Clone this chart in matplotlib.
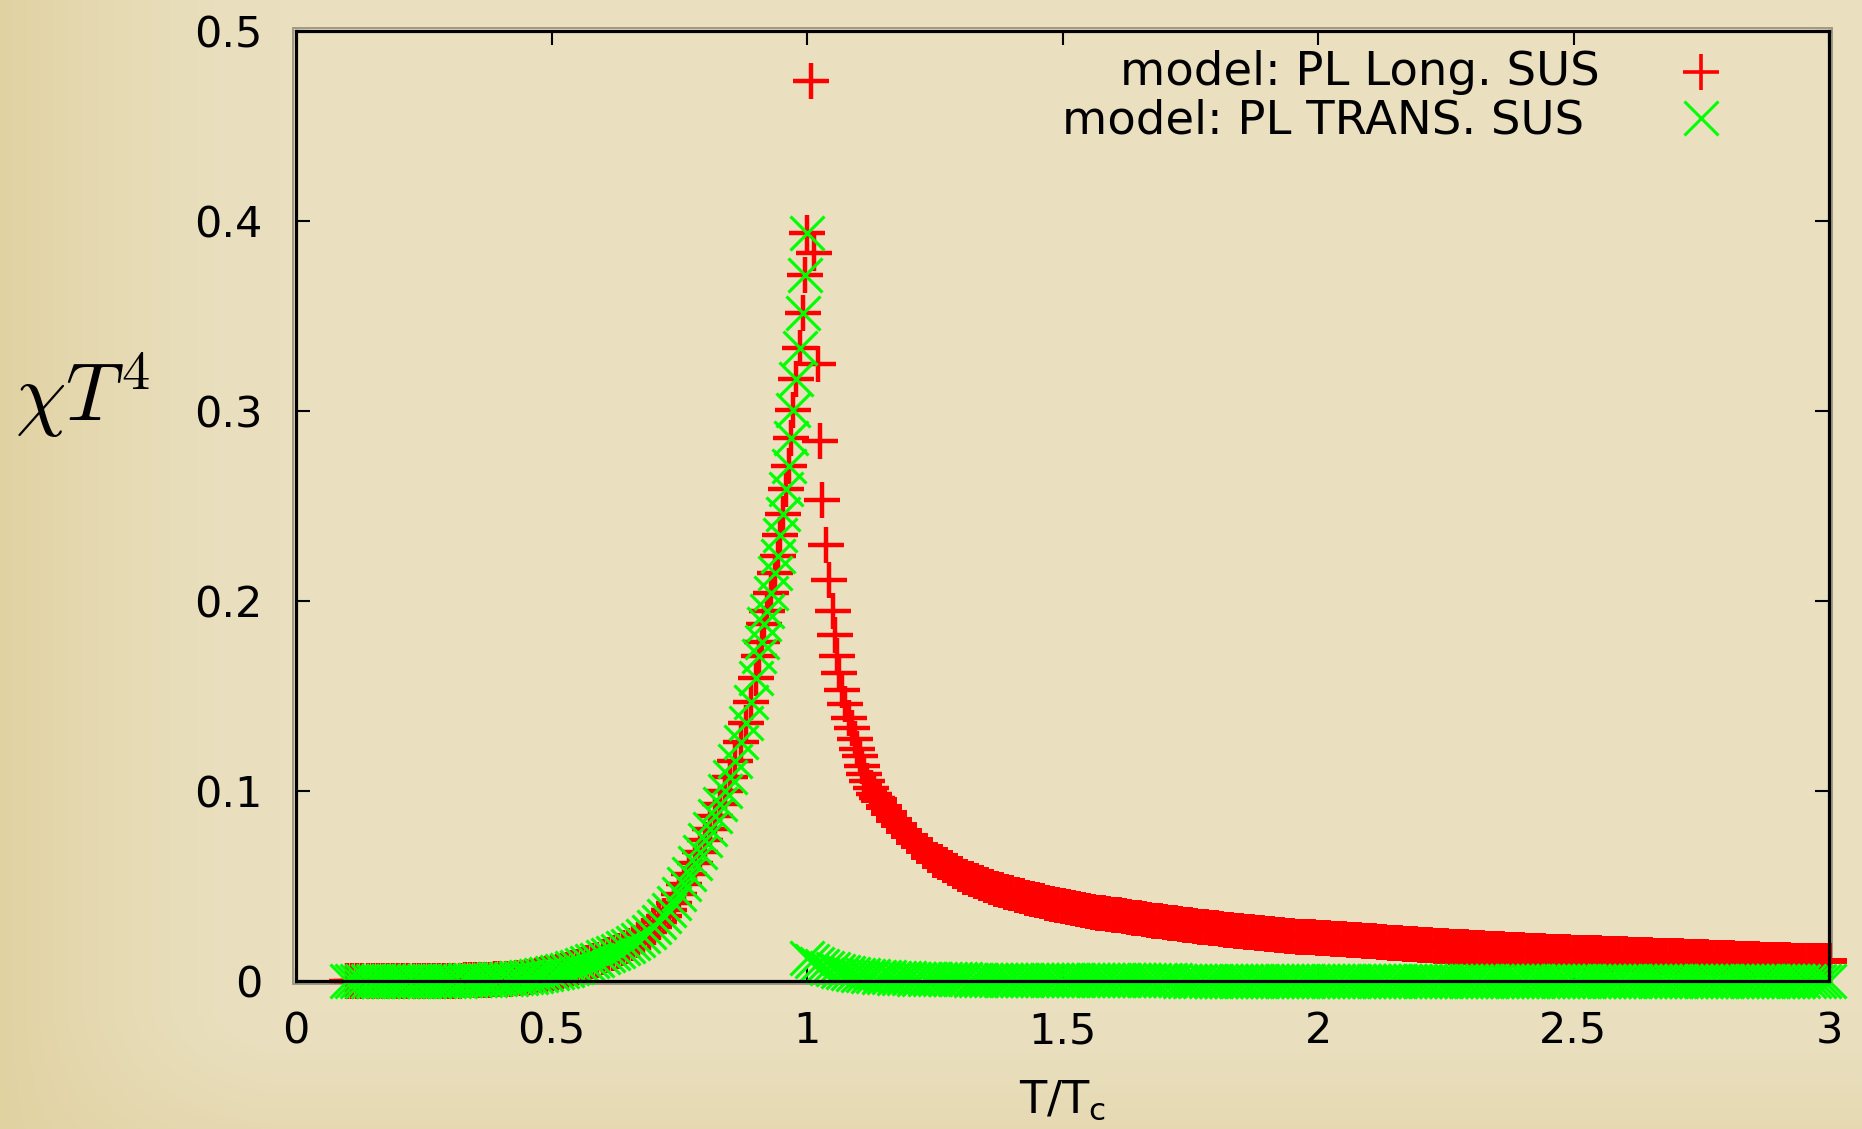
import numpy as np
import matplotlib
matplotlib.use("Agg")
import matplotlib.pyplot as plt
from matplotlib.lines import Line2D
from matplotlib.patches import Rectangle

# ------------------------------------------------------------------ data
# Below T_c both susceptibilities coincide (green drawn over red)
below_T = [
    0.10, 0.11, 0.12, 0.13, 0.14, 0.15, 0.16, 0.17, 0.18, 0.19,
    0.20, 0.21, 0.22, 0.23, 0.24, 0.25, 0.26, 0.27, 0.28, 0.29,
    0.30, 0.31, 0.32, 0.33, 0.34, 0.35, 0.36, 0.37, 0.38, 0.39,
    0.40, 0.41, 0.42, 0.43, 0.44, 0.45, 0.46, 0.47, 0.48, 0.49,
    0.50, 0.51, 0.52, 0.53, 0.54, 0.55, 0.56, 0.57, 0.58, 0.59,
    0.60, 0.61, 0.62, 0.63, 0.64, 0.65, 0.66, 0.67, 0.68, 0.69,
    0.70, 0.71, 0.72, 0.73, 0.74, 0.75, 0.76, 0.77, 0.78, 0.79,
    0.80, 0.81, 0.82, 0.83, 0.84, 0.85, 0.86, 0.87, 0.88, 0.89,
    0.90, 0.907, 0.912, 0.916, 0.922, 0.929, 0.937, 0.943, 0.948, 0.954,
    0.958, 0.964, 0.968, 0.973, 0.979, 0.986, 0.992, 0.996, 1.000,
]
below_chi = [
    0.0000, 0.0000, 0.0000, 0.0000, 0.0000, 0.0000, 0.0000, 0.0000, 0.0000, 0.0000,
    0.0000, 0.0001, 0.0001, 0.0001, 0.0001, 0.0001, 0.0001, 0.0001, 0.0001, 0.0002,
    0.0002, 0.0002, 0.0002, 0.0003, 0.0003, 0.0004, 0.0005, 0.0006, 0.0007, 0.0008,
    0.0009, 0.0010, 0.0012, 0.0014, 0.0016, 0.0019, 0.0022, 0.0026, 0.0030, 0.0035,
    0.0041, 0.0047, 0.0053, 0.0060, 0.0068, 0.0076, 0.0085, 0.0094, 0.0103, 0.0113,
    0.0124, 0.0135, 0.0146, 0.0159, 0.0172, 0.0186, 0.0201, 0.0218, 0.0237, 0.0258,
    0.0285, 0.0312, 0.0341, 0.0374, 0.0412, 0.0458, 0.0510, 0.0565, 0.0620, 0.0678,
    0.0740, 0.0802, 0.0866, 0.0930, 0.0998, 0.1072, 0.1160, 0.1258, 0.1360, 0.1470,
    0.1595, 0.1711, 0.1785, 0.1877, 0.1948, 0.2043, 0.2148, 0.2239, 0.2348, 0.2459,
    0.2587, 0.2713, 0.2859, 0.3007, 0.3170, 0.3333, 0.3516, 0.3718, 0.3937,
]

# Longitudinal susceptibility just above T_c (individually resolved markers)
long_peak_T = [
    1.008, 1.014, 1.021, 1.026, 1.030, 1.037, 1.043, 1.050, 1.054, 1.058,
    1.062, 1.069, 1.075, 1.083, 1.089, 1.093, 1.097, 1.104, 1.108, 1.112,
    1.118, 1.125, 1.131, 1.137,
]
long_peak_chi = [
    0.4737, 0.3829, 0.3246, 0.2841, 0.2534, 0.2297, 0.2113, 0.1948, 0.1821, 0.1711,
    0.1623, 0.1530, 0.1456, 0.1384, 0.1329, 0.1273, 0.1221, 0.1184, 0.1129, 0.1092,
    0.1055, 0.1018, 0.0985, 0.0962,
]

# Temperature grid of the high-temperature tail
tail_T = [
    1.00, 1.01, 1.02, 1.03, 1.04, 1.05, 1.06, 1.07, 1.08, 1.09,
    1.10, 1.11, 1.12, 1.13, 1.14, 1.15, 1.16, 1.17, 1.18, 1.19,
    1.20, 1.21, 1.22, 1.23, 1.24, 1.25, 1.26, 1.27, 1.28, 1.29,
    1.30, 1.31, 1.32, 1.33, 1.34, 1.35, 1.36, 1.37, 1.38, 1.39,
    1.40, 1.41, 1.42, 1.43, 1.44, 1.45, 1.46, 1.47, 1.48, 1.49,
    1.50, 1.51, 1.52, 1.53, 1.54, 1.55, 1.56, 1.57, 1.58, 1.59,
    1.60, 1.61, 1.62, 1.63, 1.64, 1.65, 1.66, 1.67, 1.68, 1.69,
    1.70, 1.71, 1.72, 1.73, 1.74, 1.75, 1.76, 1.77, 1.78, 1.79,
    1.80, 1.81, 1.82, 1.83, 1.84, 1.85, 1.86, 1.87, 1.88, 1.89,
    1.90, 1.91, 1.92, 1.93, 1.94, 1.95, 1.96, 1.97, 1.98, 1.99,
    2.00, 2.01, 2.02, 2.03, 2.04, 2.05, 2.06, 2.07, 2.08, 2.09,
    2.10, 2.11, 2.12, 2.13, 2.14, 2.15, 2.16, 2.17, 2.18, 2.19,
    2.20, 2.21, 2.22, 2.23, 2.24, 2.25, 2.26, 2.27, 2.28, 2.29,
    2.30, 2.31, 2.32, 2.33, 2.34, 2.35, 2.36, 2.37, 2.38, 2.39,
    2.40, 2.41, 2.42, 2.43, 2.44, 2.45, 2.46, 2.47, 2.48, 2.49,
    2.50, 2.51, 2.52, 2.53, 2.54, 2.55, 2.56, 2.57, 2.58, 2.59,
    2.60, 2.61, 2.62, 2.63, 2.64, 2.65, 2.66, 2.67, 2.68, 2.69,
    2.70, 2.71, 2.72, 2.73, 2.74, 2.75, 2.76, 2.77, 2.78, 2.79,
    2.80, 2.81, 2.82, 2.83, 2.84, 2.85, 2.86, 2.87, 2.88, 2.89,
    2.90, 2.91, 2.92, 2.93, 2.94, 2.95, 2.96, 2.97, 2.98, 2.99,
    3.00,
]

# Longitudinal tail, for tail_T from 1.14 on
long_tail_chi = [
    0.0952, 0.0917, 0.0883, 0.0850, 0.0819, 0.0789,
    0.0761, 0.0734, 0.0708, 0.0684, 0.0661, 0.0639, 0.0624, 0.0608, 0.0593, 0.0578,
    0.0564, 0.0550, 0.0538, 0.0527, 0.0516, 0.0506, 0.0496, 0.0486, 0.0477, 0.0469,
    0.0461, 0.0453, 0.0445, 0.0438, 0.0431, 0.0425, 0.0419, 0.0413, 0.0407, 0.0401,
    0.0395, 0.0389, 0.0384, 0.0379, 0.0374, 0.0369, 0.0364, 0.0360, 0.0356, 0.0352,
    0.0348, 0.0345, 0.0341, 0.0338, 0.0334, 0.0330, 0.0326, 0.0322, 0.0318, 0.0314,
    0.0310, 0.0306, 0.0303, 0.0300, 0.0297, 0.0293, 0.0290, 0.0286, 0.0283, 0.0280,
    0.0277, 0.0274, 0.0271, 0.0268, 0.0265, 0.0262, 0.0259, 0.0257, 0.0254, 0.0251,
    0.0248, 0.0246, 0.0243, 0.0241, 0.0238, 0.0236, 0.0234, 0.0232, 0.0230, 0.0229,
    0.0227, 0.0226, 0.0224, 0.0223, 0.0221, 0.0219, 0.0218, 0.0216, 0.0214, 0.0212,
    0.0210, 0.0208, 0.0206, 0.0204, 0.0202, 0.0200, 0.0198, 0.0196, 0.0195, 0.0193,
    0.0191, 0.0190, 0.0188, 0.0186, 0.0185, 0.0183, 0.0181, 0.0179, 0.0178, 0.0177,
    0.0175, 0.0174, 0.0172, 0.0171, 0.0170, 0.0168, 0.0167, 0.0165, 0.0164, 0.0163,
    0.0161, 0.0160, 0.0158, 0.0157, 0.0156, 0.0155, 0.0154, 0.0153, 0.0152, 0.0151,
    0.0150, 0.0149, 0.0148, 0.0147, 0.0146, 0.0145, 0.0144, 0.0143, 0.0142, 0.0141,
    0.0140, 0.0139, 0.0138, 0.0137, 0.0136, 0.0135, 0.0134, 0.0133, 0.0132, 0.0131,
    0.0130, 0.0129, 0.0128, 0.0127, 0.0126, 0.0125, 0.0124, 0.0123, 0.0122, 0.0121,
    0.0120, 0.0119, 0.0118, 0.0117, 0.0116, 0.0115, 0.0114, 0.0113, 0.0112, 0.0111,
    0.0110, 0.0109, 0.0108, 0.0107, 0.0107, 0.0106, 0.0106, 0.0105, 0.0105, 0.0104,
    0.0104,
]

# Transverse tail, for every tail_T
trans_tail_chi = [
    0.0120, 0.0105, 0.0092, 0.0080, 0.0070, 0.0061, 0.0054, 0.0048, 0.0043, 0.0038,
    0.0034, 0.0031, 0.0028, 0.0025, 0.0023, 0.0021, 0.0019, 0.0018, 0.0016, 0.0015,
    0.0014, 0.0013, 0.0012, 0.0012, 0.0011, 0.0010, 0.0010, 0.0009, 0.0009, 0.0008,
    0.0008, 0.0008, 0.0007, 0.0007, 0.0007, 0.0006, 0.0006, 0.0006, 0.0006, 0.0005,
    0.0005, 0.0005, 0.0005, 0.0005, 0.0005, 0.0004, 0.0004, 0.0004, 0.0004, 0.0004,
    0.0004, 0.0004, 0.0004, 0.0004, 0.0004, 0.0003, 0.0003, 0.0003, 0.0003, 0.0003,
    0.0003, 0.0003, 0.0003, 0.0003, 0.0003, 0.0003, 0.0003, 0.0003, 0.0003, 0.0003,
    0.0003, 0.0003, 0.0003, 0.0002, 0.0002, 0.0002, 0.0002, 0.0002, 0.0002, 0.0002,
    0.0002, 0.0002, 0.0002, 0.0002, 0.0002, 0.0002, 0.0002, 0.0002, 0.0002, 0.0002,
    0.0002, 0.0002, 0.0002, 0.0002, 0.0002, 0.0002, 0.0002, 0.0002, 0.0002, 0.0002,
    0.0001, 0.0001, 0.0001, 0.0001, 0.0001, 0.0001, 0.0001, 0.0001, 0.0001, 0.0001,
    0.0001, 0.0001, 0.0001, 0.0001, 0.0001, 0.0001, 0.0001, 0.0001, 0.0001, 0.0001,
    0.0001, 0.0001, 0.0001, 0.0001, 0.0001, 0.0001, 0.0001, 0.0001, 0.0001, 0.0001,
    0.0001, 0.0001, 0.0001, 0.0001, 0.0001, 0.0001, 0.0001, 0.0001, 0.0001, 0.0001,
    0.0001, 0.0001, 0.0001, 0.0001, 0.0001, 0.0001, 0.0001, 0.0001, 0.0001, 0.0001,
    0.0001, 0.0001, 0.0001, 0.0001, 0.0001, 0.0001, 0.0001, 0.0001, 0.0001, 0.0001,
    0.0000, 0.0000, 0.0000, 0.0000, 0.0000, 0.0000, 0.0000, 0.0000, 0.0000, 0.0000,
    0.0000, 0.0000, 0.0000, 0.0000, 0.0000, 0.0000, 0.0000, 0.0000, 0.0000, 0.0000,
    0.0000, 0.0000, 0.0000, 0.0000, 0.0000, 0.0000, 0.0000, 0.0000, 0.0000, 0.0000,
    0.0000, 0.0000, 0.0000, 0.0000, 0.0000, 0.0000, 0.0000, 0.0000, 0.0000, 0.0000,
    0.0000,
]

x_ticks = [0, 0.5, 1, 1.5, 2, 2.5, 3]
x_tick_labels = ["0", "0.5", "1", "1.5", "2", "2.5", "3"]
y_ticks = [0, 0.1, 0.2, 0.3, 0.4, 0.5]
y_tick_labels = ["0", "0.1", "0.2", "0.3", "0.4", "0.5"]
series_labels = ["model: PL Long. SUS", "model: PL TRANS. SUS"]

# assemble the two series
i0 = tail_T.index(1.14)
long_head_T = below_T + long_peak_T
long_head_chi = below_chi + long_peak_chi
long_tail_T = tail_T[i0:i0 + len(long_tail_chi)]
long_tail_vals = long_tail_chi[:len(long_tail_T)]
trans_T = below_T + tail_T[:len(trans_tail_chi)]
trans_chi = below_chi + trans_tail_chi[:len(tail_T)]

# ------------------------------------------------------------------ style
W, H, DPI = 1862, 1129, 100
plt.rcParams["font.family"] = ["DejaVu Sans"]
plt.rcParams["mathtext.fontset"] = "cm"

RED = "#ff0000"
GREEN = "#00ff00"
PLUS_MS, PLUS_MEW = 26, 3.2
CROSS_MS, CROSS_MEW = 24, 2.3

fig = plt.figure(figsize=(W / DPI, H / DPI), dpi=DPI)

# beamer-like beige background with golden left edge
base = np.array([234, 224, 192]) / 255.0
edge = np.array([225, 210, 162]) / 255.0
bott = np.array([230, 217, 178]) / 255.0
xx = np.arange(W)[None, :, None].astype(float)
yy = np.arange(H)[:, None, None].astype(float)
wl = np.clip(1.0 - xx / 280.0, 0, 1) ** 1.6
wb = np.clip((yy - 1010.0) / 119.0, 0, 1) ** 1.5
img = np.ones((H, W, 3)) * base
img = img + (edge - base) * wl
img = img + (bott - base) * wb * (1 - wl)
img = np.clip(img, 0, 1)
fig.patch.set_facecolor(base)
bg = fig.add_axes([0, 0, 1, 1], zorder=-2)
bg.imshow(img, aspect="auto", extent=(0, 1, 0, 1), interpolation="bilinear")
bg.set_axis_off()

# axes frame position (pixels): left 296, right 1829, top 31, bottom 981
L, R, T, B = 296, 1829, 31, 981
ax = fig.add_axes([L / W, 1 - B / H, (R - L) / W, (B - T) / H], zorder=0)
ax.set_facecolor("none")

# soft grey shadow just outside the frame
sh = 2.6
fig.add_artist(Rectangle(((L - sh) / W, 1 - (B + sh) / H),
                         (R - L + 2 * sh) / W, (B - T + 2 * sh) / H,
                         transform=fig.transFigure, fill=False,
                         lw=1.4, ec="#9f9984", zorder=-1))

# longitudinal: resolved markers near T_c, densely packed tail
ax.plot(long_head_T, long_head_chi, linestyle="none", marker="+",
        ms=PLUS_MS, mew=PLUS_MEW, color=RED, clip_on=False,
        label=series_labels[0], zorder=2)
ax.plot(long_tail_T, long_tail_vals, linestyle="none", marker="+",
        ms=PLUS_MS, mew=4.3, color=RED, clip_on=False, zorder=2)
ax.plot(trans_T, trans_chi, linestyle="none", marker="x", ms=CROSS_MS,
        mew=CROSS_MEW, color=GREEN, clip_on=False, label=series_labels[1],
        zorder=2.1)

ax.set_xlim(0, 3)
ax.set_ylim(0, 0.5)
ax.set_xticks(x_ticks, x_tick_labels)
ax.set_yticks(y_ticks, y_tick_labels)
ax.tick_params(direction="in", length=10, width=1.5, top=True, right=True,
               labelsize=31, colors="black")
ax.tick_params(axis="y", pad=24)
ax.tick_params(axis="x", pad=21)
for s in ax.spines.values():
    s.set_linewidth(2.3)
    s.set_color("black")
    s.set_zorder(3)

# axis labels
fig.text((L + R) / 2 / W, 1 - 1113 / H, r"$\mathregular{T/T_c}$",
         fontsize=32, ha="center", va="baseline")
fig.text(15 / W, 1 - 421 / H, r"$\chi T^4$", fontsize=58,
         ha="left", va="baseline")

# key (gnuplot style: right-justified text, symbol to the right)
fig.text(1600 / W, 1 - 85 / H, series_labels[0], fontsize=33.5,
         ha="right", va="baseline")
fig.text(1584 / W, 1 - 133 / H, series_labels[1], fontsize=33.5,
         ha="right", va="baseline")
fig.add_artist(Line2D([1701 / W], [1 - 72 / H], transform=fig.transFigure,
                      linestyle="none", marker="+", ms=PLUS_MS, mew=2.6,
                      color=RED))
fig.add_artist(Line2D([1701 / W], [1 - 118 / H], transform=fig.transFigure,
                      linestyle="none", marker="x", ms=CROSS_MS, mew=2.2,
                      color=GREEN))

fig.savefig("out.png", dpi=DPI, facecolor=fig.get_facecolor())
